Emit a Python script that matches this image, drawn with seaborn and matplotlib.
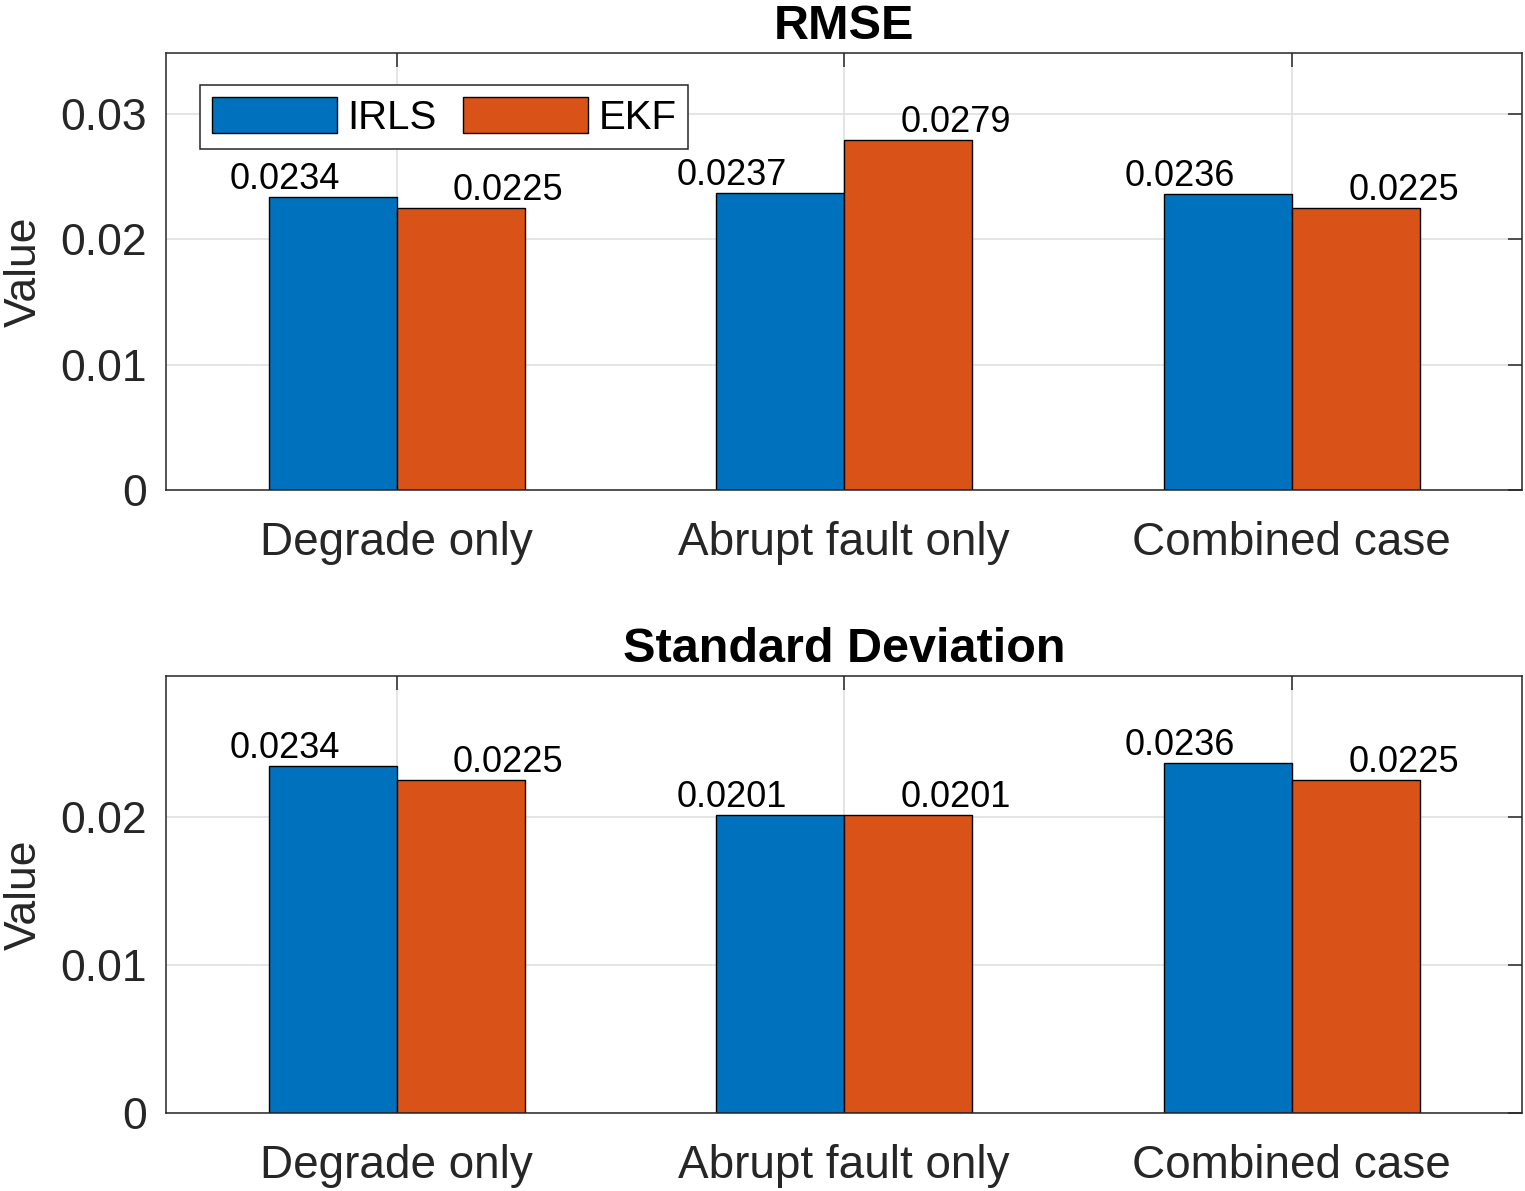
import matplotlib
matplotlib.use("Agg")
import matplotlib.pyplot as plt
import seaborn as sns
import pandas as pd

cases = ["Degrade only", "Abrupt fault only", "Combined case"]
methods = ["IRLS", "EKF"]
rmse_irls = [0.0234, 0.0237, 0.0236]
rmse_ekf = [0.0225, 0.0279, 0.0225]
std_irls = [0.0234, 0.0201, 0.0236]
std_ekf = [0.0225, 0.0201, 0.0225]
titles = ["RMSE", "Standard Deviation"]
yticks_top = [0, 0.01, 0.02, 0.03]
yticks_bot = [0, 0.01, 0.02]
colors = ["#0072BD", "#D95319"]

sns.set_style("white")
plt.rcParams["font.family"] = ["Liberation Sans", "DejaVu Sans"]

FRAME = "#262626"
fig = plt.figure(figsize=(15.25, 11.91), dpi=100)
ax1 = fig.add_axes([0.1089, 0.5886, 0.8892, 0.3669])
ax2 = fig.add_axes([0.1089, 0.0655, 0.8892, 0.3669])


def draw(ax, irls, ekf, title, yticks, show_legend):
    df = pd.DataFrame({
        "case": cases * 2,
        "method": [methods[0]] * 3 + [methods[1]] * 3,
        "value": list(irls) + list(ekf),
    })
    sns.barplot(data=df, x="case", y="value", hue="method", order=cases,
                hue_order=methods, palette=colors, width=0.572,
                edgecolor="black", linewidth=1.0, saturation=1, ax=ax,
                legend=show_legend, errorbar=None)
    ax.set_axisbelow(True)
    ax.grid(True, color="#dedede", linewidth=1.1)
    ax.set_xlim(-0.515, 2.515)
    ymax = max(max(irls), max(ekf)) * 1.25
    ax.set_ylim(0, ymax)
    ax.set_yticks(yticks)
    ax.set_yticklabels(["0" if t == 0 else f"{t:g}" for t in yticks])
    ax.set_xlabel("")
    ax.set_ylabel("Value", fontsize=32, color=FRAME, labelpad=11)
    ax.set_title(title, fontsize=35, fontweight="bold", pad=10, color="black")
    ax.tick_params(axis="both", direction="in", length=10, width=1.1,
                   color=FRAME, labelcolor=FRAME, labelsize=32,
                   top=True, right=True)
    ax.tick_params(axis="x", pad=22, labelsize=33)
    ax.tick_params(axis="y", pad=14)
    for sp in ax.spines.values():
        sp.set_visible(True)
        sp.set_color(FRAME)
        sp.set_linewidth(1.1)
    for i, v in enumerate(irls):
        ax.text(i - 0.25, v, f"{v:.4f}", ha="center", va="bottom",
                fontsize=26, color="black")
    for i, v in enumerate(ekf):
        ax.text(i + 0.25, v, f"{v:.4f}", ha="center", va="bottom",
                fontsize=26, color="black")
    if show_legend:
        handles, labels = ax.get_legend_handles_labels()
        leg = ax.legend(handles, labels, loc="upper left",
                        bbox_to_anchor=(0.0251, 0.927), borderaxespad=0,
                        ncol=2, fontsize=29, handlelength=3.1,
                        handleheight=1.0, handletextpad=0.25,
                        columnspacing=0.67, borderpad=0.3,
                        fancybox=False, framealpha=1, edgecolor=FRAME)
        leg.get_frame().set_linewidth(1.1)
        for t in leg.get_texts():
            t.set_color("black")


draw(ax1, rmse_irls, rmse_ekf, titles[0], yticks_top, True)
draw(ax2, std_irls, std_ekf, titles[1], yticks_bot, False)

fig.savefig("out.png", dpi=100)
